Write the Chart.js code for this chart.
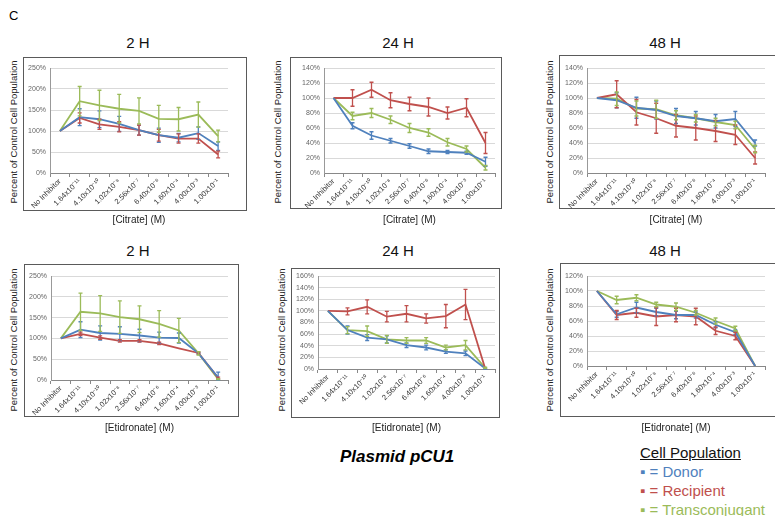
<!DOCTYPE html>
<html>
<head>
<meta charset="utf-8">
<script src="https://cdn.jsdelivr.net/npm/chart.js@4.4.0/dist/chart.umd.min.js"></script>
<style>
    body { margin: 0; background: #fff; font-family: "Liberation Sans", Arial, sans-serif; }
    #page { position: relative; width: 775px; height: 516px; overflow: hidden; }
    .box { position: absolute; border: 1.5px solid #5a5a5a; box-sizing: border-box; }
    .ttl { position: absolute; font-size: 15px; color: #111; white-space: nowrap; transform: translate(-50%, -50%); }
    .ytl { position: absolute; font-size: 9.5px; color: #222; white-space: nowrap; transform: translate(-50%, -50%) rotate(-90deg); }
    canvas { position: absolute; }
    .legend { position: absolute; font-size: 15px; line-height: 19px; }
</style>
</head>
<body>
<div id="page">
    <div style="position:absolute;left:9px;top:8px;font-size:13px;">C</div>
    <div style="position:absolute;left:340px;top:447px;font-size:17px;font-weight:bold;font-style:italic;">Plasmid pCU1</div>
    <div class="legend" style="left:640px;top:443px;">
        <div style="text-decoration:underline;color:#111;">Cell Population</div>
        <div style="color:#4F81BD;">&#9642; = Donor</div>
        <div style="color:#C0504D;">&#9642; = Recipient</div>
        <div style="color:#9BBB59;">&#9642; = Transconjugant</div>
    </div>
</div>
<script>
// concentrations on the x axis
const doses = ['No Inhibitor', '1.64x10⁻¹¹', '4.10x10⁻¹⁰', '1.02x10⁻⁸', '2.56x10⁻⁷',
    '6.40x10⁻⁶', '1.60x10⁻⁴', '4.00x10⁻³', '1.00x10⁻¹'];

// Citrate 2 H
const cit2Donor = [100, 133, 128, 117, 102, 90, 84, 95, 64];
const cit2DonorErr = [0, 20, 20, 18, 12, 17, 10, 15, 10];
const cit2Recip = [100, 131, 116, 110, 102, 90, 82, 82, 44];
const cit2RecipErr = [0, 12, 12, 12, 12, 14, 11, 11, 8];
const cit2Trans = [100, 171, 161, 153, 148, 129, 128, 139, 88];
const cit2TransErr = [0, 35, 36, 34, 31, 32, 28, 30, 14];

// Citrate 24 H
const cit24Donor = [100, 63, 50, 43, 36, 29, 28, 27, 15];
const cit24DonorErr = [0, 4, 5, 3, 3, 3, 2, 2, 6];
const cit24Recip = [100, 100, 111, 97, 92, 88, 80, 87, 40];
const cit24RecipErr = [0, 11, 10, 10, 9, 12, 8, 12, 14];
const cit24Trans = [100, 76, 80, 71, 60, 54, 41, 32, 7];
const cit24TransErr = [0, 5, 6, 5, 6, 5, 5, 4, 3];

// Citrate 48 H
const cit48Donor = [100, 97, 87, 84, 76, 73, 69, 72, 40];
const cit48DonorErr = [0, 10, 14, 12, 10, 9, 9, 10, 4];
const cit48Recip = [100, 105, 81, 73, 63, 60, 56, 51, 20];
const cit48RecipErr = [0, 18, 17, 20, 15, 16, 14, 13, 8];
const cit48Trans = [100, 99, 86, 85, 77, 73, 68, 64, 32];
const cit48TransErr = [0, 9, 10, 12, 6, 5, 5, 5, 5];

// Etidronate 2 H
const eti2Donor = [100, 121, 113, 111, 107, 102, 101, 64, 6];
const eti2DonorErr = [0, 19, 17, 17, 15, 13, 12, 2, 13];
const eti2Recip = [100, 111, 102, 94, 94, 88, 76, 65, 5];
const eti2RecipErr = [0, 4, 4, 3, 3, 3, 0, 2, 2];
const eti2Trans = [100, 164, 160, 151, 146, 135, 119, 64, 2];
const eti2TransErr = [0, 45, 43, 39, 32, 32, 29, 4, 1];

// Etidronate 24 H
const eti24Donor = [100, 67, 54, 51, 41, 37, 30, 27, 1];
const eti24DonorErr = [0, 7, 5, 6, 4, 4, 3, 4, 1];
const eti24Recip = [100, 99, 107, 90, 95, 87, 91, 111, 1];
const eti24RecipErr = [0, 6, 12, 9, 14, 8, 20, 26, 0];
const eti24Trans = [100, 67, 65, 51, 49, 49, 37, 41, 2];
const eti24TransErr = [0, 6, 9, 7, 5, 5, 4, 8, 1];

// Etidronate 48 H
const eti48Donor = [100, 69, 78, 72, 68, 68, 55, 45, 0];
const eti48DonorErr = [0, 4, 7, 5, 5, 4, 4, 3, 0];
const eti48Recip = [100, 68, 71, 66, 68, 66, 47, 40, 0];
const eti48RecipErr = [0, 6, 6, 12, 9, 11, 5, 5, 0];
const eti48Trans = [100, 88, 91, 82, 79, 71, 60, 50, 0];
const eti48TransErr = [0, 5, 4, 3, 5, 3, 4, 3, 0];

const BLUE = '#4F81BD', RED = '#C0504D', GREEN = '#9BBB59';

// vertical error bars with small caps
const errorBars = {
    id: 'errorBars',
    afterDatasetsDraw(chart) {
        const ctx = chart.ctx;
        const yScale = chart.scales.y;
        chart.data.datasets.forEach((ds, i) => {
            const meta = chart.getDatasetMeta(i);
            ctx.save();
            ctx.strokeStyle = ds.borderColor;
            ctx.lineWidth = 1.3;
            meta.data.forEach((pt, j) => {
                const e = ds.errors[j];
                if (!e) return;
                const top = yScale.getPixelForValue(ds.data[j] + e);
                const bot = yScale.getPixelForValue(Math.max(ds.data[j] - e, 0));
                ctx.beginPath();
                ctx.moveTo(pt.x, top); ctx.lineTo(pt.x, bot);
                ctx.moveTo(pt.x - 2, top); ctx.lineTo(pt.x + 2, top);
                ctx.moveTo(pt.x - 2, bot); ctx.lineTo(pt.x + 2, bot);
                ctx.stroke();
            });
            ctx.restore();
        });
    }
};

function addDiv(cls, text, style) {
    const d = document.createElement('div');
    d.className = cls;
    d.textContent = text;
    Object.assign(d.style, style);
    document.getElementById('page').appendChild(d);
}

function makePanel(p) {
    const page = document.getElementById('page');
    // frame around the chart
    addDiv('box', '', { left: p.box[0] + 'px', top: p.box[1] + 'px',
        width: (p.box[2] - p.box[0]) + 'px', height: (p.box[3] - p.box[1]) + 'px' });
    addDiv('ttl', p.title, { left: p.titleX + 'px', top: p.titleY + 'px' });
    addDiv('ytl', 'Percent of Control Cell Population', { left: p.yTitleX + 'px', top: p.yTitleY + 'px' });

    const axisW = 40, padTop = 10, padRight = 6;
    const canvas = document.createElement('canvas');
    const w = p.R - p.L + axisW + padRight;
    const h = p.xTitleY + 8 - (p.T - padTop);
    canvas.width = w;
    canvas.height = h;
    canvas.style.left = (p.L - axisW) + 'px';
    canvas.style.top = (p.T - padTop) + 'px';
    page.appendChild(canvas);

    new Chart(canvas.getContext('2d'), {
        type: 'line',
        data: {
            labels: doses,
            datasets: [
                { label: 'Donor', data: p.donor, errors: p.donorErr, borderColor: BLUE },
                { label: 'Recipient', data: p.recip, errors: p.recipErr, borderColor: RED },
                { label: 'Transconjugant', data: p.trans, errors: p.transErr, borderColor: GREEN }
            ].map(ds => Object.assign(ds, { borderWidth: 1.8, pointRadius: 0, tension: 0, fill: false }))
        },
        options: {
            responsive: false,
            animation: false,
            layout: { padding: { top: padTop, right: padRight, left: 0, bottom: 0 } },
            plugins: { legend: { display: false }, tooltip: { enabled: false } },
            scales: {
                x: {
                    offset: true,
                    grid: { offset: true, drawOnChartArea: false, tickLength: 4, color: '#888' },
                    border: { color: '#888' },
                    ticks: {
                        autoSkip: false, maxRotation: 45, minRotation: 45, padding: 0,
                        color: '#333', font: { size: 7.5, family: 'Liberation Sans' }
                    },
                    title: {
                        display: true, text: p.xTitle, color: '#222',
                        font: { size: 10, family: 'Liberation Sans' }, padding: { top: 0, bottom: 2 }
                    },
                    afterFit: s => { s.height = h - padTop - (p.B - p.T); }
                },
                y: {
                    min: 0, max: p.yMax,
                    grid: { color: '#d9d9d9', drawTicks: false },
                    border: { color: '#999' },
                    ticks: {
                        stepSize: p.step, padding: 4, color: '#666',
                        font: { size: 7, family: 'Liberation Sans' },
                        callback: v => v + '%'
                    },
                    afterFit: s => { s.width = axisW; }
                }
            }
        },
        plugins: [errorBars]
    });
}

makePanel({ title: '2 H', xTitle: '[Citrate] (M)', yMax: 250, step: 50,
    L: 50, R: 228, T: 68, B: 173, xTitleY: 220, box: [23, 57, 247, 211],
    titleX: 138, titleY: 42, yTitleX: 13, yTitleY: 132,
    donor: cit2Donor, donorErr: cit2DonorErr, recip: cit2Recip, recipErr: cit2RecipErr,
    trans: cit2Trans, transErr: cit2TransErr });

makePanel({ title: '24 H', xTitle: '[Citrate] (M)', yMax: 140, step: 20,
    L: 324, R: 495, T: 68, B: 173, xTitleY: 220, box: [290, 57, 502, 209],
    titleX: 398, titleY: 42, yTitleX: 277, yTitleY: 132,
    donor: cit24Donor, donorErr: cit24DonorErr, recip: cit24Recip, recipErr: cit24RecipErr,
    trans: cit24Trans, transErr: cit24TransErr });

makePanel({ title: '48 H', xTitle: '[Citrate] (M)', yMax: 140, step: 20,
    L: 587, R: 765, T: 68, B: 173, xTitleY: 220, box: [559, 55, 790, 209],
    titleX: 665, titleY: 42, yTitleX: 549, yTitleY: 132,
    donor: cit48Donor, donorErr: cit48DonorErr, recip: cit48Recip, recipErr: cit48RecipErr,
    trans: cit48Trans, transErr: cit48TransErr });

makePanel({ title: '2 H', xTitle: '[Etidronate] (M)', yMax: 250, step: 50,
    L: 51, R: 228, T: 276, B: 380, xTitleY: 428, box: [24, 264, 239, 417],
    titleX: 138, titleY: 250, yTitleX: 13, yTitleY: 340,
    donor: eti2Donor, donorErr: eti2DonorErr, recip: eti2Recip, recipErr: eti2RecipErr,
    trans: eti2Trans, transErr: eti2TransErr });

makePanel({ title: '24 H', xTitle: '[Etidronate] (M)', yMax: 160, step: 20,
    L: 318, R: 495, T: 276, B: 369, xTitleY: 428, box: [291, 268, 500, 418],
    titleX: 398, titleY: 250, yTitleX: 281, yTitleY: 340,
    donor: eti24Donor, donorErr: eti24DonorErr, recip: eti24Recip, recipErr: eti24RecipErr,
    trans: eti24Trans, transErr: eti24TransErr });

makePanel({ title: '48 H', xTitle: '[Etidronate] (M)', yMax: 120, step: 20,
    L: 587, R: 765, T: 276, B: 366, xTitleY: 428, box: [560, 263, 790, 417],
    titleX: 665, titleY: 250, yTitleX: 549, yTitleY: 340,
    donor: eti48Donor, donorErr: eti48DonorErr, recip: eti48Recip, recipErr: eti48RecipErr,
    trans: eti48Trans, transErr: eti48TransErr });
</script>
</body>
</html>
